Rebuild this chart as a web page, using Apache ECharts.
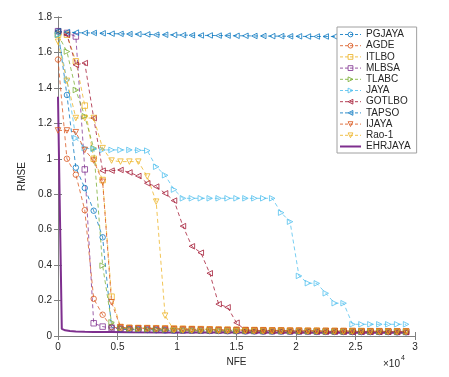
<!DOCTYPE html>
<html>
<head>
<meta charset="utf-8">
<title>RMSE vs NFE</title>
<script src="https://cdn.jsdelivr.net/npm/echarts@6/dist/echarts.min.js"></script>
<style>
    html, body { margin: 0; padding: 0; background: #fff; }
    #main { width: 449px; height: 377px; }
</style>
</head>
<body>
<div id="main"></div>
<script>
// x positions of the sampled points (NFE)
var nfe = [0, 750, 1500, 2250, 3000, 3750, 4500, 5250, 6000, 6750,
    7500, 8250, 9000, 9750, 10500, 11250, 12000, 12750, 13500, 14250,
    15000, 15750, 16500, 17250, 18000, 18750, 19500, 20250, 21000, 21750,
    22500, 23250, 24000, 24750, 25500, 26250, 27000, 27750, 28500, 29250];

// RMSE values
var pgjaya = [1.72, 1.36, 0.95, 0.835, 0.707, 0.557, 0.05, 0.038, 0.036, 0.035,
    0.034, 0.033, 0.032, 0.031, 0.030, 0.030, 0.029, 0.028, 0.028, 0.027,
    0.027, 0.026, 0.026, 0.025, 0.025, 0.025, 0.024, 0.024, 0.024, 0.023,
    0.023, 0.023, 0.023, 0.022, 0.022, 0.022, 0.022, 0.022, 0.021, 0.021];
var agde = [1.56, 1.0, 0.91, 0.71, 0.21, 0.12, 0.05, 0.045, 0.044, 0.043,
    0.042, 0.041, 0.040, 0.039, 0.038, 0.037, 0.036, 0.035, 0.034, 0.033,
    0.033, 0.032, 0.031, 0.031, 0.030, 0.030, 0.029, 0.029, 0.028, 0.028,
    0.027, 0.027, 0.027, 0.026, 0.026, 0.026, 0.025, 0.025, 0.025, 0.025];
var itlbo = [1.70, 1.70, 1.55, 1.30, 1.0, 0.88, 0.222, 0.05, 0.046, 0.045,
    0.045, 0.044, 0.043, 0.042, 0.041, 0.040, 0.039, 0.038, 0.037, 0.036,
    0.035, 0.034, 0.034, 0.033, 0.032, 0.032, 0.031, 0.031, 0.030, 0.030,
    0.029, 0.029, 0.028, 0.028, 0.028, 0.027, 0.027, 0.027, 0.026, 0.026];
var mlbsa = [1.72, 1.71, 1.69, 0.94, 0.072, 0.053, 0.045, 0.040, 0.038, 0.037,
    0.036, 0.035, 0.034, 0.033, 0.032, 0.032, 0.031, 0.030, 0.030, 0.029,
    0.029, 0.028, 0.028, 0.027, 0.027, 0.027, 0.026, 0.026, 0.026, 0.025,
    0.025, 0.025, 0.025, 0.024, 0.024, 0.024, 0.024, 0.024, 0.023, 0.023];
var tlabc = [1.70, 1.605, 1.388, 1.24, 1.06, 0.397, 0.077, 0.045, 0.040, 0.038,
    0.037, 0.036, 0.035, 0.034, 0.033, 0.032, 0.031, 0.031, 0.030, 0.030,
    0.029, 0.029, 0.028, 0.028, 0.027, 0.027, 0.027, 0.026, 0.026, 0.026,
    0.025, 0.025, 0.025, 0.025, 0.024, 0.024, 0.024, 0.024, 0.024, 0.023];
var jaya = [1.70, 1.445, 1.116, 1.06, 1.055, 1.05, 1.05, 1.05, 1.05, 1.048,
    1.046, 0.955, 0.907, 0.826, 0.777, 0.777, 0.777, 0.777, 0.777, 0.777,
    0.777, 0.777, 0.777, 0.777, 0.777, 0.696, 0.645, 0.339, 0.298, 0.297,
    0.241, 0.185, 0.185, 0.066, 0.066, 0.066, 0.066, 0.066, 0.066, 0.066];
var gotlbo = [1.72, 1.70, 1.53, 1.54, 1.23, 0.933, 0.933, 0.937, 0.923, 0.903,
    0.862, 0.843, 0.805, 0.764, 0.62, 0.506, 0.47, 0.354, 0.18, 0.162,
    0.075, 0.032, 0.030, 0.029, 0.029, 0.028, 0.028, 0.027, 0.027, 0.026,
    0.026, 0.026, 0.025, 0.025, 0.025, 0.024, 0.024, 0.024, 0.024, 0.023];
var tapso = [1.72, 1.715, 1.712, 1.71, 1.71, 1.708, 1.706, 1.705, 1.704, 1.703,
    1.702, 1.70, 1.70, 1.699, 1.698, 1.697, 1.696, 1.696, 1.695, 1.695,
    1.694, 1.694, 1.693, 1.693, 1.692, 1.692, 1.691, 1.691, 1.69, 1.69,
    1.69, 1.69, 1.69, 1.69, 1.69, 1.68, 1.66, 1.63, 1.60, 1.565];
var ijaya = [1.16, 1.16, 1.15, 1.05, 0.99, 0.87, 0.19, 0.05, 0.045, 0.044,
    0.043, 0.042, 0.041, 0.040, 0.039, 0.038, 0.037, 0.036, 0.035, 0.034,
    0.034, 0.033, 0.032, 0.032, 0.031, 0.031, 0.030, 0.030, 0.029, 0.029,
    0.029, 0.028, 0.028, 0.028, 0.027, 0.027, 0.027, 0.026, 0.026, 0.026];
var rao1 = [1.66, 1.44, 1.23, 1.23, 1.23, 1.06, 0.99, 0.984, 0.984, 0.984,
    0.90, 0.758, 0.115, 0.032, 0.030, 0.030, 0.029, 0.029, 0.028, 0.028,
    0.027, 0.027, 0.027, 0.026, 0.026, 0.026, 0.025, 0.025, 0.025, 0.025,
    0.024, 0.024, 0.024, 0.024, 0.024, 0.023, 0.023, 0.023, 0.023, 0.023];

// EHRJAYA is drawn as a plain line with its own sampling
var ehrNfe = [0, 320, 600, 1000, 1500, 2250, 3000, 4500, 6000, 9000, 15000, 22500, 29250];
var ehrjaya = [1.35, 0.04, 0.032, 0.028, 0.026, 0.024, 0.023, 0.022, 0.021, 0.020, 0.020, 0.019, 0.019];

var xTicks = ['0', '0.5', '1', '1.5', '2', '2.5', '3'];
var yTicks = ['0', '0.2', '0.4', '0.6', '0.8', '1', '1.2', '1.4', '1.6', '1.8'];

// marker shapes (MATLAB style)
var triRight = 'path://M0,0 L0,10 L9,5 Z';
var triLeft = 'path://M9,0 L9,10 L0,5 Z';
var triDown = 'path://M0,0 L10,0 L5,9 Z';

var font = '"Liberation Sans", Arial, Helvetica, sans-serif';
var myChart = echarts.init(document.getElementById('main'));

function pairs(xs, ys) {
    var out = [];
    for (var i = 0; i < ys.length; i++) out.push([xs[i], ys[i]]);
    return out;
}

var legendData = [];

function dashed(name, vals, color, symbol) {
    legendData.push({
        name: name,
        itemStyle: { color: 'rgba(255,255,255,0)', borderColor: color, borderWidth: 0.9 },
        lineStyle: { color: color, width: 0.9, type: [3, 2] }
    });
    return {
        name: name,
        type: 'line',
        data: pairs(nfe, vals),
        symbol: symbol,
        symbolSize: 5.5,
        showSymbol: true,
        lineStyle: { color: color, width: 0.85, type: [4, 3], opacity: 0.9 },
        itemStyle: { color: 'rgba(255,255,255,0)', borderColor: color, borderWidth: 0.85, opacity: 0.9 },
        emphasis: { disabled: true }
    };
}

var series = [
    dashed('PGJAYA', pgjaya, '#0072BD', 'circle'),
    dashed('AGDE', agde, '#D95319', 'circle'),
    dashed('ITLBO', itlbo, '#EDB120', 'rect'),
    dashed('MLBSA', mlbsa, '#7E2F8E', 'rect'),
    dashed('TLABC', tlabc, '#77AC30', triRight),
    dashed('JAYA', jaya, '#4DBEEE', triRight),
    dashed('GOTLBO', gotlbo, '#A2142F', triLeft),
    dashed('TAPSO', tapso, '#0072BD', triLeft),
    dashed('IJAYA', ijaya, '#D95319', triDown),
    dashed('Rao-1', rao1, '#EDB120', triDown),
    {
        name: 'EHRJAYA',
        type: 'line',
        data: pairs(ehrNfe, ehrjaya),
        showSymbol: false,
        symbol: 'none',
        lineStyle: { color: '#7E2F8E', width: 2 },
        itemStyle: { color: '#7E2F8E' },
        emphasis: { disabled: true }
    }
];
// solid line only in the legend, no marker dot
legendData.push({
    name: 'EHRJAYA',
    itemStyle: { color: 'rgba(0,0,0,0)', borderWidth: 0 },
    lineStyle: { color: '#7E2F8E', width: 2 }
});

var axisColor = '#808080';
var textColor = '#262626';

var option = {
    animation: false,
    backgroundColor: '#fff',
    textStyle: { fontFamily: font },
    grid: { left: 58, right: 34, top: 17, bottom: 41 },
    legend: {
        orient: 'vertical',
        left: 337,
        top: 27,
        data: legendData,
        backgroundColor: '#fff',
        borderColor: '#a0a0a0',
        borderWidth: 1,
        borderRadius: 0,
        padding: [2, 6, 1, 2],
        itemWidth: 21,
        itemHeight: 6,
        itemGap: 0.2,
        textStyle: { fontSize: 10, color: textColor, fontFamily: font, lineHeight: 11 }
    },
    xAxis: [{
        type: 'value',
        min: 0,
        max: 30000,
        interval: 5000,
        name: 'NFE',
        nameLocation: 'middle',
        nameGap: 19,
        nameTextStyle: { fontSize: 10, color: textColor },
        axisLine: { lineStyle: { color: axisColor, width: 1 } },
        axisTick: { inside: true, length: 4, lineStyle: { color: axisColor } },
        axisLabel: {
            margin: 6, fontSize: 10, color: textColor,
            formatter: function (v) { return xTicks[Math.round(v / 5000)]; }
        },
        splitLine: { show: false }
    }, {
        type: 'value',
        position: 'top',
        min: 0,
        max: 30000,
        interval: 5000,
        axisLine: { show: true, lineStyle: { color: axisColor, width: 1 } },
        axisTick: { show: true, inside: true, length: 4, lineStyle: { color: axisColor } },
        axisLabel: { show: false },
        splitLine: { show: false }
    }],
    yAxis: [{
        type: 'value',
        min: 0,
        max: 1.8,
        interval: 0.2,
        name: 'RMSE',
        nameLocation: 'middle',
        nameGap: 28,
        nameTextStyle: { fontSize: 10, color: textColor },
        axisLine: { show: true, lineStyle: { color: axisColor, width: 1 } },
        axisTick: { show: true, inside: true, length: 4, lineStyle: { color: axisColor } },
        axisLabel: {
            margin: 6, fontSize: 10, color: textColor,
            formatter: function (v) { return yTicks[Math.round(v / 0.2)]; }
        },
        splitLine: { show: false }
    }, {
        type: 'value',
        position: 'right',
        min: 0,
        max: 1.8,
        interval: 0.2,
        axisLine: { show: true, lineStyle: { color: axisColor, width: 1 } },
        axisTick: { show: true, inside: true, length: 4, lineStyle: { color: axisColor } },
        axisLabel: { show: false },
        splitLine: { show: false }
    }],
    // exponent under the x axis
    graphic: [
        { type: 'text', left: 383, top: 359, style: { text: '\u00d710', fontSize: 10, fill: textColor, fontFamily: font } },
        { type: 'text', left: 401, top: 355, style: { text: '4', fontSize: 7, fill: textColor, fontFamily: font } }
    ],
    series: series
};

myChart.setOption(option);
</script>
</body>
</html>
